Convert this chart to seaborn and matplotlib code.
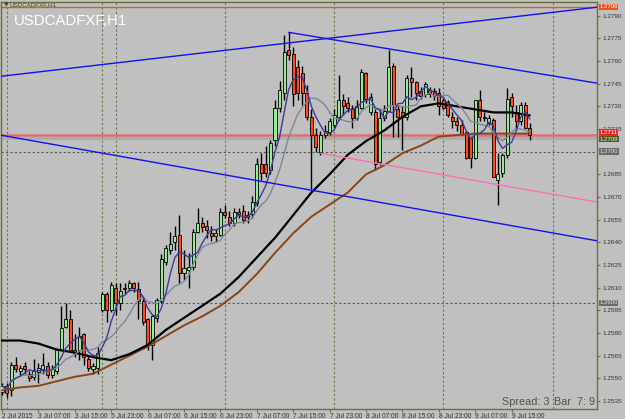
import numpy as np
import pandas as pd
import matplotlib
matplotlib.use("Agg")
import matplotlib.pyplot as plt
import matplotlib.transforms as mtransforms
import seaborn as sns

# ---------------- data (USDCAD H1) ----------------
open_ = [1.2541,1.2545,1.2542,1.2559,1.2555,1.2558,1.2553,1.2551,1.2554,1.2556,
         1.2558,1.2552,1.2555,1.2569,1.2584,1.2589,1.2567,1.2569,1.2579,1.2563,
         1.2556,1.2557,1.2595,1.2606,1.2595,1.2610,1.2600,1.2610,1.2610,1.2613,
         1.2609,1.2601,1.2589,1.2572,1.2590,1.2601,1.2627,1.2635,1.2640,1.2645,
         1.2620,1.2622,1.2624,1.2647,1.2653,1.2651,1.2646,1.2644,1.2645,1.2660,
         1.2657,1.2653,1.2660,1.2661,1.2657,1.2659,1.2666,1.2692,1.2692,1.2688,
         1.2708,1.2729,1.2739,1.2767,1.2765,1.2756,1.2752,1.2739,1.2723,1.2711,
         1.2700,1.2711,1.2713,1.2718,1.2723,1.2734,1.2732,1.2729,1.2722,1.2729,
         1.2752,1.2726,1.2726,1.2693,1.2722,1.2727,1.2757,1.2728,1.2726,1.2723,
         1.2749,1.2746,1.2740,1.2738,1.2741,1.2740,1.2739,1.2734,1.2733,1.2723,
         1.2720,1.2718,1.2713,1.2709,1.2696,1.2734,1.2722,1.2719,1.2721,1.2681,
         1.2686,1.2698,1.2736,1.2726,1.2720,1.2731,1.2716]
high = [1.2547,1.2547,1.2561,1.2564,1.2559,1.2561,1.2555,1.2563,1.2560,1.2567,
        1.2561,1.2559,1.2570,1.2598,1.2600,1.2595,1.2579,1.2584,1.2580,1.2565,
        1.2560,1.2571,1.2607,1.2607,1.2614,1.2613,1.2613,1.2613,1.2615,1.2614,
        1.2614,1.2603,1.2590,1.2592,1.2603,1.2632,1.2638,1.2647,1.2651,1.2658,
        1.2635,1.2633,1.2649,1.2663,1.2657,1.2655,1.2651,1.2649,1.2663,1.2665,
        1.2661,1.2663,1.2663,1.2665,1.2661,1.2671,1.2696,1.2699,1.2704,1.2708,
        1.2734,1.2747,1.2777,1.2779,1.2769,1.2761,1.2757,1.2744,1.2728,1.2716,
        1.2714,1.2718,1.2722,1.2728,1.2751,1.2738,1.2736,1.2731,1.2734,1.2755,
        1.2753,1.2739,1.2728,1.2728,1.2731,1.2767,1.2759,1.2731,1.2730,1.2751,
        1.2756,1.2747,1.2743,1.2746,1.2743,1.2742,1.2742,1.2736,1.2734,1.2726,
        1.2723,1.2721,1.2714,1.2710,1.2734,1.2741,1.2726,1.2724,1.2722,1.2699,
        1.2699,1.2742,1.2739,1.2731,1.2733,1.2733,1.2719]
low = [1.2539,1.2537,1.2538,1.2554,1.2552,1.2553,1.2548,1.2549,1.2547,1.2553,
       1.2550,1.2550,1.2553,1.2569,1.2583,1.2569,1.2564,1.2562,1.2559,1.2555,
       1.2553,1.2553,1.2594,1.2587,1.2594,1.2592,1.2595,1.2606,1.2608,1.2607,
       1.2589,1.2585,1.2569,1.2562,1.2587,1.2600,1.2625,1.2632,1.2635,1.2613,
       1.2615,1.2610,1.2622,1.2646,1.2647,1.2643,1.2641,1.2640,1.2644,1.2656,
       1.2651,1.2651,1.2656,1.2653,1.2653,1.2656,1.2664,1.2681,1.2683,1.2685,
       1.2704,1.2726,1.2734,1.2761,1.2730,1.2734,1.2731,1.2721,1.2675,1.2700,
       1.2698,1.2709,1.2711,1.2716,1.2721,1.2724,1.2726,1.2716,1.2721,1.2728,
       1.2732,1.2724,1.2688,1.2691,1.2720,1.2726,1.2710,1.2710,1.2701,1.2721,
       1.2736,1.2734,1.2735,1.2736,1.2736,1.2734,1.2724,1.2728,1.2723,1.2716,
       1.2714,1.2711,1.2695,1.2689,1.2695,1.2720,1.2720,1.2718,1.2683,1.2665,
       1.2683,1.2696,1.2723,1.2716,1.2718,1.2716,1.2708]
close = [1.2545,1.2540,1.2559,1.2556,1.2557,1.2556,1.2550,1.2555,1.2557,1.2559,
         1.2552,1.2556,1.2569,1.2583,1.2589,1.2569,1.2569,1.2578,1.2564,1.2557,
         1.2558,1.2567,1.2606,1.2595,1.2612,1.2600,1.2608,1.2609,1.2613,1.2610,
         1.2601,1.2587,1.2572,1.2591,1.2602,1.2629,1.2636,1.2639,1.2644,1.2620,
         1.2623,1.2624,1.2647,1.2653,1.2650,1.2648,1.2644,1.2646,1.2660,1.2658,
         1.2653,1.2660,1.2659,1.2655,1.2658,1.2667,1.2692,1.2686,1.2686,1.2706,
         1.2729,1.2741,1.2766,1.2764,1.2738,1.2739,1.2739,1.2723,1.2711,1.2703,
         1.2711,1.2714,1.2720,1.2724,1.2734,1.2730,1.2729,1.2722,1.2730,1.2753,
         1.2735,1.2736,1.2692,1.2722,1.2727,1.2756,1.2731,1.2723,1.2723,1.2749,
         1.2746,1.2739,1.2737,1.2745,1.2738,1.2737,1.2730,1.2729,1.2724,1.2720,
         1.2718,1.2712,1.2696,1.2696,1.2734,1.2723,1.2723,1.2722,1.2683,1.2685,
         1.2698,1.2735,1.2730,1.2720,1.2731,1.2716,1.2711]

# slow moving averages, read every 4th bar
ma_bars = list(range(0, 117, 4))
ma_black = [1.2575,1.2575,1.2573,1.2569,1.2567,1.2564,1.2562,1.2566,1.2572,1.2582,
            1.2590,1.2598,1.2606,1.2617,1.2630,1.2643,1.2658,1.2673,1.2685,1.2698,
            1.2707,1.2714,1.2723,1.2730,1.2732,1.2730,1.2728,1.2726,1.2726,1.2724]
ma_brown = [1.2542,1.2544,1.2545,1.2548,1.2551,1.2553,1.2559,1.2565,1.2571,1.2578,
            1.2585,1.2591,1.2598,1.2607,1.2619,1.2633,1.2646,1.2657,1.2665,1.2673,
            1.2685,1.2691,1.2699,1.2704,1.2710,1.2711,1.2712,1.2712,1.2712,1.2712]

time_tick_bars = list(range(0, 113, 8))
time_labels = ["2 Jul 2015", "3 Jul 07:00", "3 Jul 15:00", "5 Jul 23:00", "6 Jul 07:00",
               "6 Jul 15:00", "6 Jul 23:00", "7 Jul 07:00", "7 Jul 15:00", "7 Jul 23:00",
               "8 Jul 07:00", "8 Jul 15:00", "8 Jul 23:00", "9 Jul 07:00", "9 Jul 15:00"]
separator_bars = [1, 22, 25, 49, 73, 97, 121]
price_ticks = [1.2535, 1.2550, 1.2565, 1.2580, 1.2595, 1.2610, 1.2625, 1.2640, 1.2655,
               1.2670, 1.2685, 1.2715, 1.2730, 1.2745, 1.2760, 1.2775, 1.2790]

# trend lines (anchor points: bar, price)
line_rising = [(0, 1.2750), (116, 1.27905)]
line_falling = [(0, 1.27108), (116, 1.26489)]
ray_from_peak = [(63, 1.2779), (116, 1.27527)]
ray_pink = [(70, 1.2699), (116, 1.26745)]
level_top = 1.2796
level_bid = 1.2711
level_ask = 1.2709
level_grid = [1.2700, 1.2600]
# (label, box centre price, face colour, text colour)
boxes = [("1.2796", 1.27958, "#F0501E", "white"),
         ("1.2711", 1.27126, "#FF1E1E", "white"),
         ("1.2709", 1.27083, "#4E5E2A", "#E8E8E8"),
         ("1.2700", 1.27000, "#6A6A6A", "#E0E0E0"),
         ("1.2600", 1.26000, "#6A6A6A", "#E0E0E0")]

# ---------------- styling ----------------
BG = "#C0C0C0"
sns.set_theme(style="white", rc={"axes.facecolor": BG, "figure.facecolor": BG})
plt.rcParams["font.family"] = ["Liberation Sans", "DejaVu Sans"]
FRAME = "#66733A"

fig = plt.figure(figsize=(6.25, 4.19), dpi=100)
ax = fig.add_axes([1 / 625, 10.5 / 419, 596 / 625, 406.5 / 419])
ax.set_facecolor(BG)
XMIN, XMAX = -0.22, 130.77
ax.set_xlim(XMIN, XMAX)
ax.set_ylim(1.2530, 1.27991)

df = pd.DataFrame({"bar": np.arange(len(close)), "open": open_, "high": high,
                   "low": low, "close": close})
df["ma5"] = df["close"].rolling(5, min_periods=1).mean()
df["ma10"] = df["close"].rolling(10, min_periods=1).mean()
ma_df = pd.DataFrame({"bar": ma_bars, "black": ma_black, "brown": ma_brown})

# grid / separators
for b in separator_bars:
    ax.axvline(b, color="#6E7448", lw=0.8, ls=(0, (2, 2)), zorder=1)
for lv in level_grid:
    ax.axhline(lv, color="#555555", lw=0.8, ls=(0, (2, 2)), zorder=1)

# horizontal price lines
ax.axhline(level_top, color="#E2562E", lw=1.0, zorder=2)
ax.axhline(level_ask, color="#A4ABB3", lw=1.8, zorder=2)
ax.axhline(level_bid, color="#DD7070", lw=1.8, zorder=2)

# candles
up = df["close"] >= df["open"]
ax.vlines(df["bar"], df["low"], df["high"], color="black", lw=1.0, zorder=3)
body_bottom = np.minimum(df["open"], df["close"])
body_h = np.maximum((df["close"] - df["open"]).abs(), 0.00004)
colors = np.where(up, "#90EE90", "#FF4A1C")
ax.bar(df["bar"], body_h, bottom=body_bottom, width=0.66, color=colors,
       edgecolor="black", linewidth=0.6, zorder=4)

# moving averages
sns.lineplot(data=ma_df, x="bar", y="brown", color="#8B4513", lw=1.4, ax=ax, zorder=5)
sns.lineplot(data=ma_df, x="bar", y="black", color="black", lw=1.6, ax=ax, zorder=5)
sns.lineplot(data=df, x="bar", y="ma10", color="#7A8898", lw=1.0, ax=ax, zorder=5)
sns.lineplot(data=df, x="bar", y="ma5", color="#3F3A96", lw=1.0, ax=ax, zorder=5)

# trend lines
ax.axline(line_rising[0], line_rising[1], color="#1010F0", lw=1.0, zorder=6)
ax.axline(line_falling[0], line_falling[1], color="#1010F0", lw=1.0, zorder=6)


def ray(pts, color):
    (x1, y1), (x2, y2) = pts
    slope = (y2 - y1) / (x2 - x1)
    ax.plot([x1, XMAX + 1], [y1, y1 + slope * (XMAX + 1 - x1)], color=color,
            lw=1.0, zorder=6)


ray(ray_from_peak, "#1010F0")
ray(ray_pink, "#FF6EB4")

# axes cosmetics
for s in ax.spines.values():
    s.set_color(FRAME)
    s.set_linewidth(1.0)
ax.yaxis.tick_right()
ax.set_yticks(price_ticks)
ax.set_yticklabels([f"{p:.4f}" for p in price_ticks])
ax.tick_params(axis="y", which="both", right=True, left=False, length=2.5, width=0.8,
               color=FRAME, labelsize=4.6, labelcolor="#333333", pad=1.5)
ax.set_xticks(time_tick_bars)
ax.set_xticklabels(time_labels)
ax.tick_params(axis="x", bottom=True, length=2.5, width=0.8, color=FRAME,
               labelsize=4.8, labelcolor="#333333", pad=0.5)
for lab in ax.get_xticklabels():
    lab.set_ha("left")
ax.set_xlabel("")
ax.set_ylabel("")
ax.grid(False)
if ax.get_legend() is not None:
    ax.get_legend().remove()

# price boxes on the right axis
trans = mtransforms.blended_transform_factory(ax.transAxes, ax.transData)
for txt, price, fc, tc in boxes:
    ax.text(1.004, price, txt, transform=trans, ha="left", va="center", fontsize=4.3,
            color=tc, zorder=10, clip_on=False,
            bbox=dict(boxstyle="square,pad=0.12", fc=fc, ec="none"))

# texts
fig.text(4 / 625, 1 - 5 / 419, "\u25bc", fontsize=4, color="#3E4A1E", va="center",
         family=["DejaVu Sans"])
fig.text(10 / 625, 1 - 5 / 419, "USDCADFXF,H1", fontsize=4.5, color="#3E4A1E",
         va="center")
fig.text(14 / 625, 1 - 21 / 419, "USDCADFXF,H1", fontsize=10.8, color="white",
         va="center")
fig.text(550 / 625, 1 - 402 / 419, "Spread: 3", fontsize=7.8, color="#505050",
         ha="right", va="center")
fig.text(554 / 625, 1 - 402 / 419, "Bar  7: 9", fontsize=7.8, color="#505050",
         ha="left", va="center")

fig.savefig("out.png", dpi=100, facecolor=BG)
